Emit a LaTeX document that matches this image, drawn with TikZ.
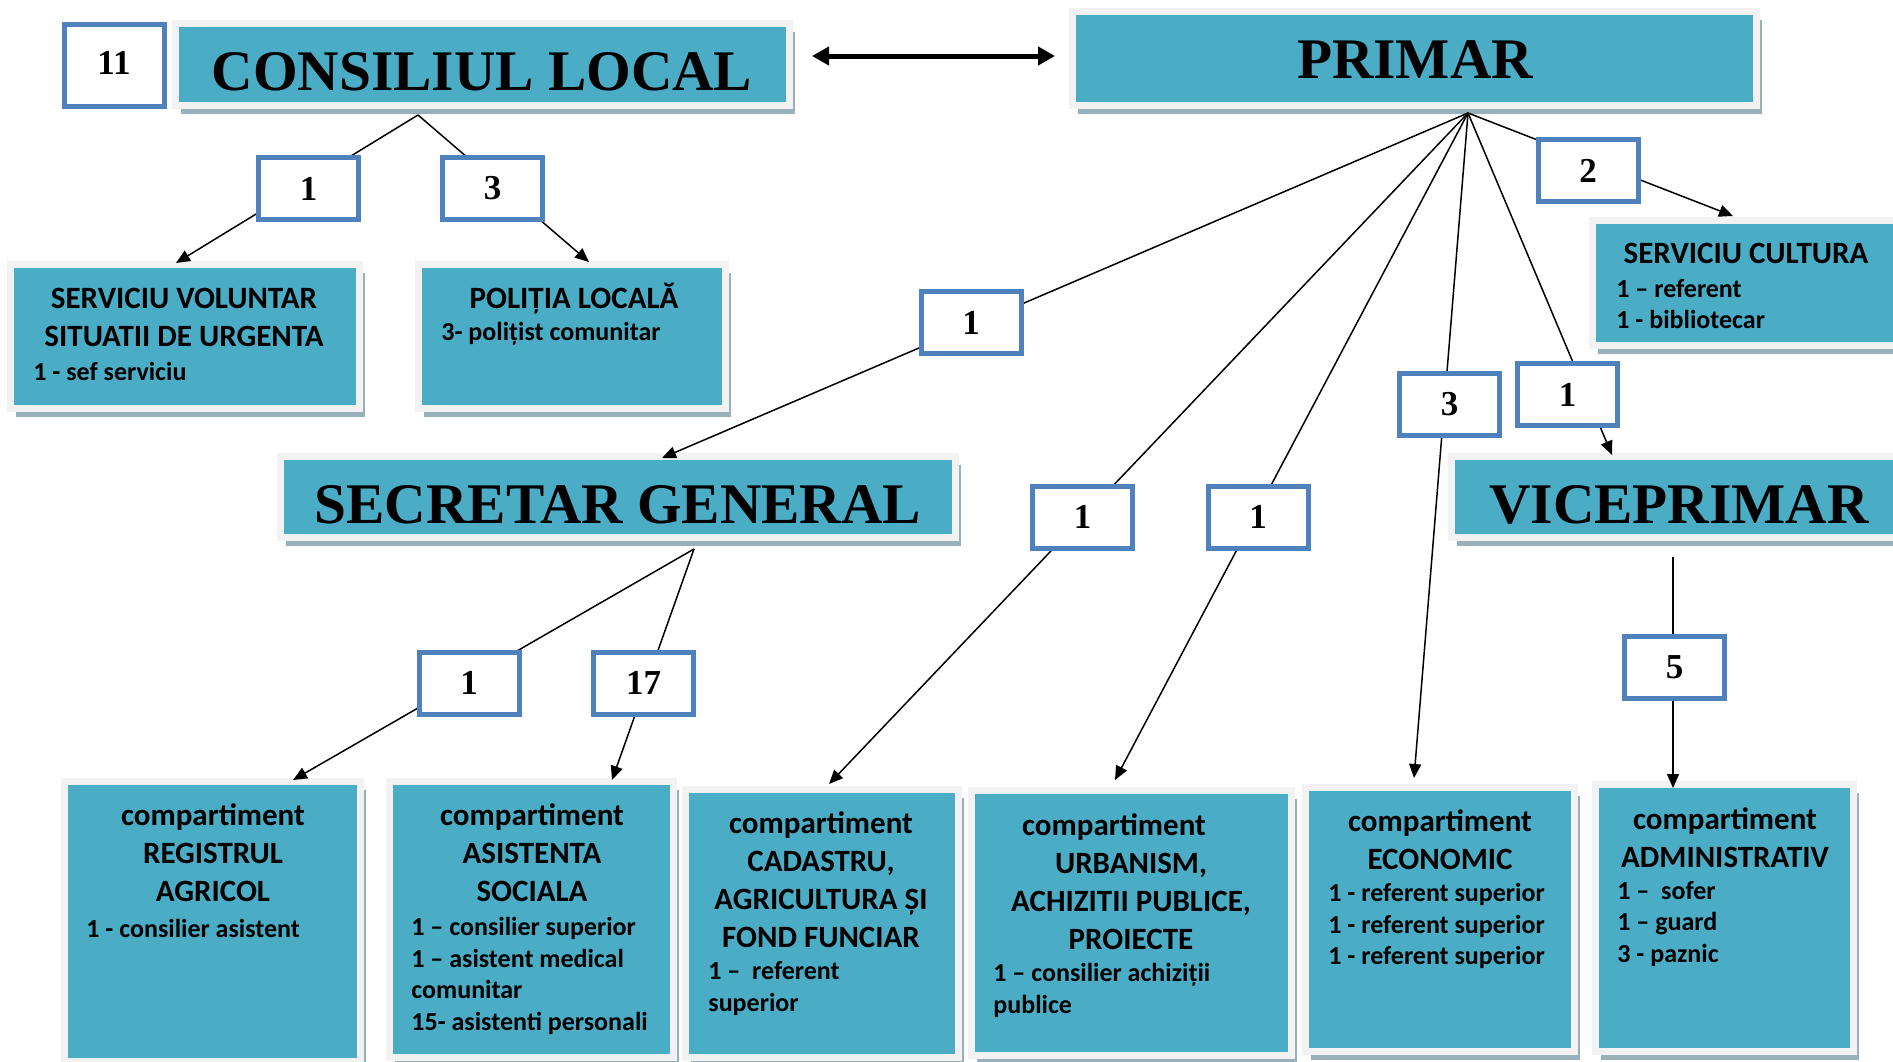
\documentclass[tikz,border=0pt]{standalone}
\usepackage{fontspec}
\setmainfont{Liberation Serif}
\newfontfamily\calibri{Carlito}
\usetikzlibrary{arrows.meta,shadows}

\definecolor{boxteal}{HTML}{4BACC6}
\definecolor{boxframe}{HTML}{F2F2F2}
\definecolor{boxshadow}{HTML}{98B0BA}
\definecolor{numblue}{HTML}{4F81BD}

\tikzset{
    dept/.style={
        rectangle,
        fill=boxteal,
        draw=boxframe, % rama gri deschis
        line width=3.5pt,
        inner sep=0,
        drop shadow={shadow xshift=2.75pt, shadow yshift=-4.25pt, fill=boxshadow, opacity=1}
    },
    numbox/.style={
        rectangle,
        fill=white,
        draw=numblue,
        line width=2.5pt,
        minimum width=50pt,
        minimum height=31pt,
        inner sep=0,
        font=\bfseries\fontsize{17.5}{20}\selectfont
    },
    headtext/.style={anchor=base, inner sep=0, font=\bfseries\fontsize{28.7}{34}\selectfont},
    depttitle/.style={anchor=north, align=center, inner sep=0, font=\calibri\bfseries\fontsize{15.5}{19}\selectfont},
    items/.style={anchor=north west, align=left, inner sep=0, font=\calibri\bfseries\fontsize{13}{15.75}\selectfont},
    link/.style={-{Triangle[length=7pt,width=6pt]}, line width=0.75pt},
    dbl/.style={{Triangle[length=8.5pt,width=9pt]}-{Triangle[length=8.5pt,width=9pt]}, line width=2.5pt}
}

\begin{document}
\begin{tikzpicture}[x=0.5pt, y=-0.5pt]
    \path[use as bounding box, fill=white] (0,0) rectangle (1893,1061);
    \clip (0,0) rectangle (1893,1061);

    % casetele mari
    \node[dept, minimum width=307pt, minimum height=41pt] (cons) at (482.5,64.5) {};
    \node[dept, minimum width=342pt, minimum height=47pt] (primar) at (1414.5,58.5) {};
    \node[dept, minimum width=174.5pt, minimum height=72pt] (svsu) at (185,336.5) {};
    \node[dept, minimum width=153.5pt, minimum height=72pt] (pol) at (572,336.5) {};
    \node[dept, minimum width=153.5pt, minimum height=62.5pt] (cult) at (1746,283) {};
    \node[dept, minimum width=337.5pt, minimum height=40.5pt] (secr) at (618,497) {};
    \node[dept, minimum width=227.5pt, minimum height=40.5pt] (vice) at (1679,497) {};
    \node[dept, minimum width=148pt, minimum height=140pt] (reg) at (212.5,921.5) {};
    \node[dept, minimum width=142pt, minimum height=138pt] (asist) at (531.5,919.5) {};
    \node[dept, minimum width=136.5pt, minimum height=134pt] (cad) at (822,923.5) {};
    \node[dept, minimum width=160pt, minimum height=132.5pt] (urb) at (1131.5,923) {};
    \node[dept, minimum width=134.5pt, minimum height=132pt] (eco) at (1440,919.5) {};
    \node[dept, minimum width=129pt, minimum height=133.5pt] (adm) at (1724.5,918) {};

    % titluri
    \node[headtext] (cons-t) at (482,90) {CONSILIUL LOCAL};
    \node[headtext] (primar-t) at (1415,78) {PRIMAR};
    \node[headtext] (secr-t) at (618,523) {SECRETAR GENERAL};
    \node[headtext] (vice-t) at (1679,523) {VICEPRIMAR};

    \node[depttitle] (svsu-t) at (184,287.5) {SERVICIU VOLUNTAR\\SITUATII DE URGENTA};
    \node[items] (svsu-l) at (33,362) {1 - sef serviciu};
    \node[depttitle, anchor=base] (pol-t) at (574,308) {POLIȚIA LOCALĂ};
    \node[items] (pol-l) at (441,322) {3- polițist comunitar};
    \node[depttitle, anchor=base] (cult-t) at (1746,263) {SERVICIU CULTURA};
    \node[items] (cult-l) at (1616,279) {1 – referent\\1 - bibliotecar};

    \node[depttitle] (reg-t) at (213,803) {compartiment\\REGISTRUL\\AGRICOL};
    \node[items] (reg-l) at (86,919) {1 - consilier asistent};
    \node[depttitle] (asist-t) at (532,803) {compartiment\\ASISTENTA\\SOCIALA};
    \node[items] (asist-l) at (411,917) {1 – consilier superior\\1 – asistent medical\\comunitar\\15- asistenti personali};
    \node[depttitle] (cad-t) at (821,811) {compartiment\\CADASTRU,\\AGRICULTURA ȘI\\FOND FUNCIAR};
    \node[items] (cad-l) at (708,961.5) {1 –\ \ referent\\superior};
    \node[depttitle] (urb-t) at (1131,813) {compartiment\hspace*{17pt}\mbox{}\\URBANISM,\\ACHIZITII PUBLICE,\\PROIECTE};
    \node[items] (urb-l) at (993,963) {1 – consilier achiziții\\publice};
    \node[depttitle] (eco-t) at (1440,809) {compartiment\\ECONOMIC};
    \node[items] (eco-l) at (1328,883) {1 - referent superior\\1 - referent superior\\1 - referent superior};
    \node[depttitle] (adm-t) at (1725,807) {compartiment\\ADMINISTRATIV};
    \node[items] (adm-l) at (1617,881) {1 –\ \ sofer\\1 – guard\\3 - paznic};

    % puncte de plecare si sosire
    \coordinate (cons-hub) at (418,115);
    \coordinate (primar-hub) at (1468,113);
    \coordinate (secr-hub) at (694,549);
    \coordinate (vice-hub) at (1673,557);
    \coordinate (cons-out) at (812,56);
    \coordinate (primar-in) at (1055,56);
    \coordinate (svsu-in) at (176,263);
    \coordinate (pol-in) at (589,262);
    \coordinate (cult-in) at (1733,216);
    \coordinate (secr-in) at (662,458);
    \coordinate (vice-in) at (1612,455);
    \coordinate (reg-in) at (293,780);
    \coordinate (asist-in) at (612,780);
    \coordinate (cad-in) at (829,784);
    \coordinate (urb-in) at (1115,780);
    \coordinate (eco-in) at (1414,778);
    \coordinate (adm-in) at (1673,788);

    \draw[dbl] (cons-out) -- (primar-in);
    \draw[link] (cons-hub) -- (svsu-in);
    \draw[link] (cons-hub) -- (pol-in);
    \draw[link] (primar-hub) -- (cult-in);
    \draw[link] (primar-hub) -- (secr-in);
    \draw[link] (primar-hub) -- (cad-in);
    \draw[link] (primar-hub) -- (urb-in);
    \draw[link] (primar-hub) -- (eco-in);
    \draw[link] (primar-hub) -- (vice-in);
    \draw[link] (secr-hub) -- (reg-in);
    \draw[link] (secr-hub) -- (asist-in);
    \draw[link] (vice-hub) -- (adm-in);

    % numar de posturi
    \node[numbox, minimum height=41pt] (n11) at (114,65.5) {\raisebox{3pt}{11}};
    \node[numbox] (cl1) at (308.5,188.5) {1};
    \node[numbox] (cl3) at (492.5,188.5) {3};
    \node[numbox] (pr2) at (1588,170.5) {2};
    \node[numbox] (pr-secr) at (971,322.5) {1};
    \node[numbox] (sg1) at (469,683) {1};
    \node[numbox] (sg17) at (643.5,683) {17};
    \node[numbox] (pr-cad) at (1082.5,517) {1};
    \node[numbox] (pr-urb) at (1258,517) {1};
    \node[numbox] (pr-eco) at (1449.5,404) {3};
    \node[numbox] (pr-vice) at (1567.5,394.5) {1};
    \node[numbox] (vice5) at (1674.5,667.5) {5};
\end{tikzpicture}
\end{document}
